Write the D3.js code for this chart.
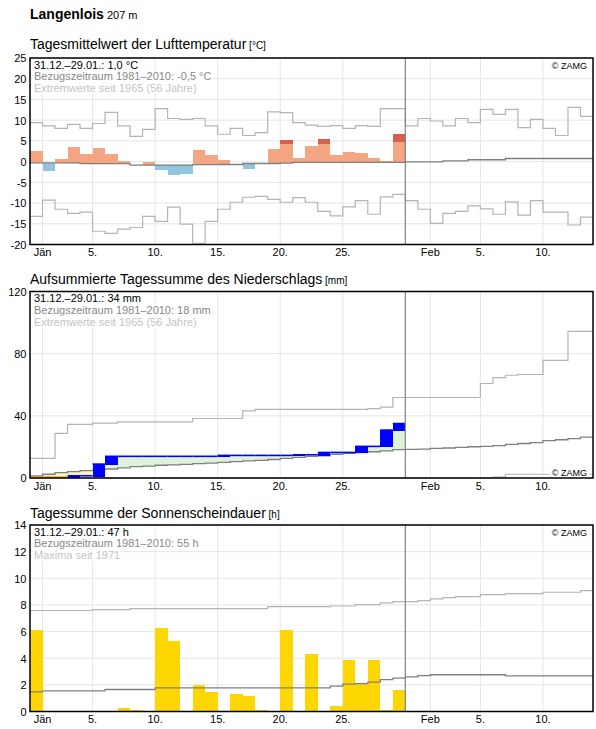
<!DOCTYPE html>
<html lang="de">
<head>
<meta charset="utf-8">
<title>Langenlois 207 m</title>
<script src="https://cdn.jsdelivr.net/npm/d3@7"></script>
<style>
  body { margin: 0; background: #fff; }
  svg text { font-family: Arial, "Liberation Sans", sans-serif; fill: #000; }
</style>
</head>
<body>
<script>
// day index 0 = 31.12., the period runs to index 29 (29.01.), the axis to 14.02.
var tickDays = [1, 5, 10, 15, 20, 25, 32, 36, 41];
var tickLabels = ["Jän", "5.", "10.", "15.", "20.", "25.", "Feb", "5.", "10."];
var periodEnd = 30;
var axisEnd = 45;

// daily mean air temperature (°C)
var tempObs = [2.5, -2.2, 0.6, 3.5, 1.8, 3.3, 1.8, 0.1, -0.8, -0.1,
               -2.1, -3.2, -2.9, 2.8, 1.6, 0.4, -0.7, -1.7, -0.4, 3.0,
               5.2, 0.8, 3.7, 5.4, 1.6, 2.3, 2.0, 0.8, 0.1, 6.6];
// where the dark red part of a warm bar begins
var tempHighFrom = [null, null, null, null, null, null, null, null, null, null,
                    null, null, null, null, null, null, null, null, null, null,
                    4.2, null, null, 4.2, null, null, null, null, null, 4.7];
var tempMean = [-0.3, -0.3, -0.3, -0.3, -0.5, -0.5, -0.5, -0.5, -0.85, -0.85,
                -0.85, -0.85, -0.85, -0.75, -0.75, -0.7, -0.7, -0.45, -0.45, -0.45,
                -0.35, -0.2, -0.2, -0.2, -0.2, -0.2, -0.2, -0.2, -0.2, -0.2,
                -0.05, -0.05, -0.05, 0.2, 0.2, 0.45, 0.45, 0.45, 0.75, 0.75,
                0.75, 0.75, 0.75, 0.75, 0.75];
var tempMax = [9.4, 8.6, 8.0, 9.0, 8.0, 9.2, 11.9, 8.6, 6.1, 7.8,
               12.8, 10.4, 10.2, 10.4, 8.6, 6.6, 8.0, 6.3, 7.0, 12.0,
               11.8, 9.4, 8.8, 8.5, 8.7, 8.0, 8.7, 8.5, 12.8, 12.8,
               8.6, 10.4, 9.8, 8.6, 10.4, 9.4, 12.6, 11.4, 12.6, 8.2,
               10.2, 8.0, 6.3, 13.1, 10.9];
var tempMin = [-13.2, -9.3, -11.5, -12.5, -12.2, -16.8, -17.3, -16.3, -15.9, -13.2,
               -14.4, -11.0, -15.1, -19.7, -14.4, -11.5, -9.8, -8.6, -8.4, -9.1,
               -9.8, -8.7, -9.8, -12.0, -13.1, -10.9, -9.4, -12.7, -8.5, -7.9,
               -9.4, -11.5, -14.9, -12.5, -12.0, -10.7, -11.4, -12.7, -9.7, -12.9,
               -9.4, -12.2, -12.2, -15.3, -13.4];
var tempTicks = [-20, -15, -10, -5, 0, 5, 10, 15, 20, 25];

// daily precipitation (mm), summed up in the chart
var precipDaily = [0, 0, 0, 0.8, 0, 7.5, 5.0, 0, 0, 0,
                   0, 0, 0, 0, 0, 0.6, 0, 0, 0, 0,
                   0, 0.4, 0, 1.5, 0, 0, 3.9, 0, 10.5, 4.2];
var precipMean = [1.3, 2.4, 3.4, 4.1, 4.8, 5.2, 5.8, 6.5, 7.3, 7.6,
                  8.2, 8.4, 8.8, 9.3, 9.6, 10.1, 10.5, 11.0, 11.4, 11.9,
                  12.6, 13.3, 13.9, 14.3, 15.2, 15.8, 16.3, 16.9, 17.5, 18.2,
                  18.4, 18.6, 19.0, 19.3, 19.7, 20.1, 20.3, 20.8, 21.6, 22.2,
                  22.7, 24.0, 24.6, 25.3, 26.3];
var precipMax = [12.6, 12.6, 28.7, 34.5, 34.5, 35.3, 35.3, 36.1, 36.1, 36.1,
                 36.1, 36.1, 36.1, 38.3, 38.3, 38.3, 38.3, 43.2, 44.1, 44.1,
                 44.1, 44.1, 44.1, 44.1, 44.1, 44.1, 44.1, 44.7, 45.6, 51.8,
                 51.8, 51.8, 51.8, 51.8, 51.8, 51.8, 60.8, 64.6, 66.1, 66.6,
                 66.6, 75.7, 75.7, 94.3, 94.3];
var precipMin = [0, 0, 0, 0, 0, 0, 0, 0, 0, 0,
                 0, 0, 0, 0, 0, 0, 0, 0, 0, 0,
                 0, 0, 0, 0, 0, 0, 0, 0, 0, 0,
                 0, 0, 0, 0, 0, 0, 0, 0.5, 2.4, 2.4,
                 2.4, 2.4, 2.4, 2.4, 2.4];
var precipTicks = [0, 40, 80, 120];

// daily sunshine duration (h)
var sunDaily = [6.1, 0, 0, 0, 0, 0, 0, 0.3, 0.1, 0,
                6.3, 5.3, 0, 2.0, 1.5, 0, 1.35, 1.2, 0.15, 0,
                6.1, 0, 4.3, 0, 0.45, 3.9, 2.1, 3.9, 0.15, 1.65];
var sunMean = [1.48, 1.55, 1.55, 1.55, 1.55, 1.55, 1.65, 1.65, 1.65, 1.65,
               1.78, 1.78, 1.78, 1.78, 1.78, 1.78, 1.78, 1.78, 1.78, 1.78,
               1.78, 1.78, 1.78, 1.78, 1.9, 2.05, 2.1, 2.2, 2.4, 2.5,
               2.6, 2.7, 2.76, 2.76, 2.76, 2.76, 2.76, 2.76, 2.68, 2.68,
               2.68, 2.68, 2.68, 2.68, 2.68];
var sunMax = [7.58, 7.58, 7.58, 7.58, 7.58, 7.65, 7.65, 7.65, 7.73, 7.73,
              7.73, 7.73, 7.73, 7.73, 7.73, 7.73, 7.73, 7.73, 7.73, 7.87,
              7.87, 7.87, 7.87, 7.87, 7.92, 7.92, 8.03, 8.03, 8.15, 8.25,
              8.25, 8.33, 8.45, 8.55, 8.63, 8.63, 8.78, 8.78, 8.85, 8.85,
              8.85, 8.95, 8.95, 8.95, 9.08];
var sunTicks = [0, 2, 4, 6, 8, 10, 12, 14];

var plotH = 186.5;
var x = d3.scaleLinear().domain([0, axisEnd]).range([30, 593]);
var dayW = x(1) - x(0);

var svg = d3.select("body").append("svg")
    .attr("width", 596)
    .attr("height", 729);

var head = svg.append("text")
    .attr("x", 30).attr("y", 18.5)
    .style("font-size", "14px").style("font-weight", "bold")
    .text("Langenlois");
head.append("tspan")
    .style("font-size", "11px").style("font-weight", "normal")
    .text(" 207 m");

// step line over whole days
function stepLine(y) {
    return d3.line()
        .x(function(d, i) { return x(i); })
        .y(function(d) { return y(d); })
        .curve(d3.curveStepAfter);
}
function withEnd(values) {
    return values.concat([values[values.length - 1]]);
}

function panel(top, titleY, domain, ticks, title, unit, info, creditBottom) {
    var y = d3.scaleLinear().domain(domain).range([top + plotH, top]);
    var g = svg.append("g");

    var t = g.append("text")
        .attr("x", 30).attr("y", titleY)
        .style("font-size", "14px")
        .text(title);
    t.append("tspan").style("font-size", "10px").text(" " + unit);

    var grid = g.append("g");
    grid.selectAll("line.h").data(ticks).enter().append("line")
        .attr("x1", x(0)).attr("x2", x(axisEnd))
        .attr("y1", function(d) { return y(d); })
        .attr("y2", function(d) { return y(d); })
        .attr("stroke", "#e6e6e6");
    grid.selectAll("line.v").data(tickDays).enter().append("line")
        .attr("x1", function(d) { return x(d); })
        .attr("x2", function(d) { return x(d); })
        .attr("y1", top).attr("y2", top + plotH)
        .attr("stroke", "#e6e6e6");

    var marks = g.append("g");
    var over = g.append("g");

    over.append("line")
        .attr("x1", x(periodEnd)).attr("x2", x(periodEnd))
        .attr("y1", top).attr("y2", top + plotH)
        .attr("stroke", "#808080").attr("stroke-width", 1.2);

    // info lines with white boxes
    var infoColors = ["#000", "#888", "#c4c4c4"];
    info.forEach(function(line, i) {
        var box = over.append("rect").attr("fill", "#fff");
        var tx = over.append("text")
            .attr("x", 34).attr("y", top + 10.7 + i * 11.7)
            .style("font-size", "11px")
            .style("fill", infoColors[i])
            .text(line);
        var b = tx.node().getBBox();
        box.attr("x", b.x - 1).attr("y", b.y).attr("width", b.width + 2).attr("height", b.height);
    });

    var cBox = over.append("rect").attr("fill", "#fff");
    var credit = over.append("text")
        .attr("x", 587)
        .attr("y", creditBottom ? top + plotH - 2.5 : top + 10.7)
        .attr("text-anchor", "end")
        .style("font-size", "9px")
        .text("\u00a9 ZAMG");
    var cb = credit.node().getBBox();
    cBox.attr("x", cb.x - 2).attr("y", cb.y).attr("width", cb.width + 4).attr("height", cb.height);

    over.append("rect")
        .attr("x", x(0)).attr("y", top)
        .attr("width", x(axisEnd) - x(0)).attr("height", plotH)
        .attr("fill", "none").attr("stroke", "#000").attr("stroke-width", 1.5);

    g.selectAll("text.ytick").data(ticks).enter().append("text")
        .attr("x", 26.5)
        .attr("y", function(d) { return y(d); })
        .attr("dy", "0.4em")
        .attr("text-anchor", "end")
        .style("font-size", "11px")
        .text(function(d) { return d; });

    g.selectAll("text.xtick").data(tickDays).enter().append("text")
        .attr("x", function(d) { return x(d); })
        .attr("y", top + plotH + 11.5)
        .attr("text-anchor", "middle")
        .style("font-size", "11px")
        .text(function(d, i) { return tickLabels[i]; });

    return {y: y, marks: marks};
}

/* Temperature */
var pt = panel(58, 48.5, [-20, 25], tempTicks,
    "Tagesmittelwert der Lufttemperatur", "[°C]",
    ["31.12.–29.01.: 1,0 °C", "Bezugszeitraum 1981–2010: -0,5 °C", "Extremwerte seit 1965 (56 Jahre)"],
    false);

pt.marks.selectAll("rect.bar").data(tempObs).enter().append("rect")
    .attr("x", function(d, i) { return x(i); })
    .attr("width", dayW)
    .attr("y", function(d, i) { return pt.y(Math.max(d, tempMean[i])); })
    .attr("height", function(d, i) { return Math.abs(pt.y(d) - pt.y(tempMean[i])); })
    .attr("fill", function(d, i) { return d >= tempMean[i] ? "#f4a582" : "#92c5de"; })
    .attr("shape-rendering", "crispEdges");

var hot = tempHighFrom.map(function(h, i) { return {i: i, h: h, v: tempObs[i]}; })
    .filter(function(d) { return d.h !== null; });
pt.marks.selectAll("rect.hot").data(hot).enter().append("rect")
    .attr("x", function(d) { return x(d.i); })
    .attr("width", dayW)
    .attr("y", function(d) { return pt.y(d.v); })
    .attr("height", function(d) { return pt.y(d.h) - pt.y(d.v); })
    .attr("fill", "#d6604d")
    .attr("shape-rendering", "crispEdges");

[tempMax, tempMin].forEach(function(s) {
    pt.marks.append("path").attr("d", stepLine(pt.y)(withEnd(s)))
        .attr("fill", "none").attr("stroke", "#b4b4b4").attr("stroke-width", 1.2);
});
pt.marks.append("path").attr("d", stepLine(pt.y)(withEnd(tempMean)))
    .attr("fill", "none").attr("stroke", "#808080").attr("stroke-width", 1.3);

/* Precipitation */
var pp = panel(291.5, 283.5, [0, 120], precipTicks,
    "Aufsummierte Tagessumme des Niederschlags", "[mm]",
    ["31.12.–29.01.: 34 mm", "Bezugszeitraum 1981–2010: 18 mm", "Extremwerte seit 1965 (56 Jahre)"],
    true);

var precipSum = Array.from(d3.cumsum(precipDaily));

pp.marks.selectAll("rect.fill").data(precipSum).enter().append("rect")
    .attr("x", function(d, i) { return x(i); })
    .attr("width", dayW)
    .attr("y", function(d, i) { return pp.y(Math.max(d, precipMean[i])); })
    .attr("height", function(d, i) { return Math.abs(pp.y(d) - pp.y(precipMean[i])); })
    .attr("fill", function(d, i) { return d >= precipMean[i] ? "#dff2d8" : "#fff4bf"; })
    .attr("shape-rendering", "crispEdges");

[precipMax, precipMin].forEach(function(s) {
    pp.marks.append("path").attr("d", stepLine(pp.y)(withEnd(s)))
        .attr("fill", "none").attr("stroke", "#b4b4b4").attr("stroke-width", 1.2);
});
pp.marks.append("path").attr("d", stepLine(pp.y)(withEnd(precipMean)))
    .attr("fill", "none").attr("stroke", "#808080").attr("stroke-width", 1.3);

// observed sum, orange while still dry
pp.marks.selectAll("line.obs").data(precipSum).enter().append("line")
    .attr("x1", function(d, i) { return x(i); })
    .attr("x2", function(d, i) { return x(i + 1); })
    .attr("y1", function(d) { return pp.y(d) - 1; })
    .attr("y2", function(d) { return pp.y(d) - 1; })
    .attr("stroke", function(d) { return d === 0 ? "#e8a52e" : "#0000ff"; })
    .attr("stroke-width", 1.6);

var wet = precipDaily.map(function(p, i) { return {i: i, p: p, sum: precipSum[i]}; })
    .filter(function(d) { return d.p > 0; });
pp.marks.selectAll("rect.rain").data(wet).enter().append("rect")
    .attr("x", function(d) { return x(d.i); })
    .attr("width", dayW)
    .attr("y", function(d) { return pp.y(d.sum) - 1.5; })
    .attr("height", function(d) { return pp.y(d.sum - d.p) - pp.y(d.sum) + 1.5; })
    .attr("fill", "#0000ff")
    .attr("shape-rendering", "crispEdges");

/* Sunshine */
var ps = panel(525, 517.5, [0, 14], sunTicks,
    "Tagessumme der Sonnenscheindauer", "[h]",
    ["31.12.–29.01.: 47 h", "Bezugszeitraum 1981–2010: 55 h", "Maxima seit 1971"],
    false);

ps.marks.selectAll("rect.sun").data(sunDaily).enter().append("rect")
    .attr("x", function(d, i) { return x(i); })
    .attr("width", dayW)
    .attr("y", function(d) { return ps.y(d); })
    .attr("height", function(d) { return ps.y(0) - ps.y(d); })
    .attr("fill", "#ffd700")
    .attr("shape-rendering", "crispEdges");

ps.marks.append("path").attr("d", stepLine(ps.y)(withEnd(sunMax)))
    .attr("fill", "none").attr("stroke", "#b4b4b4").attr("stroke-width", 1.2);
ps.marks.append("path").attr("d", stepLine(ps.y)(withEnd(sunMean)))
    .attr("fill", "none").attr("stroke", "#808080").attr("stroke-width", 1.3);
</script>
</body>
</html>
